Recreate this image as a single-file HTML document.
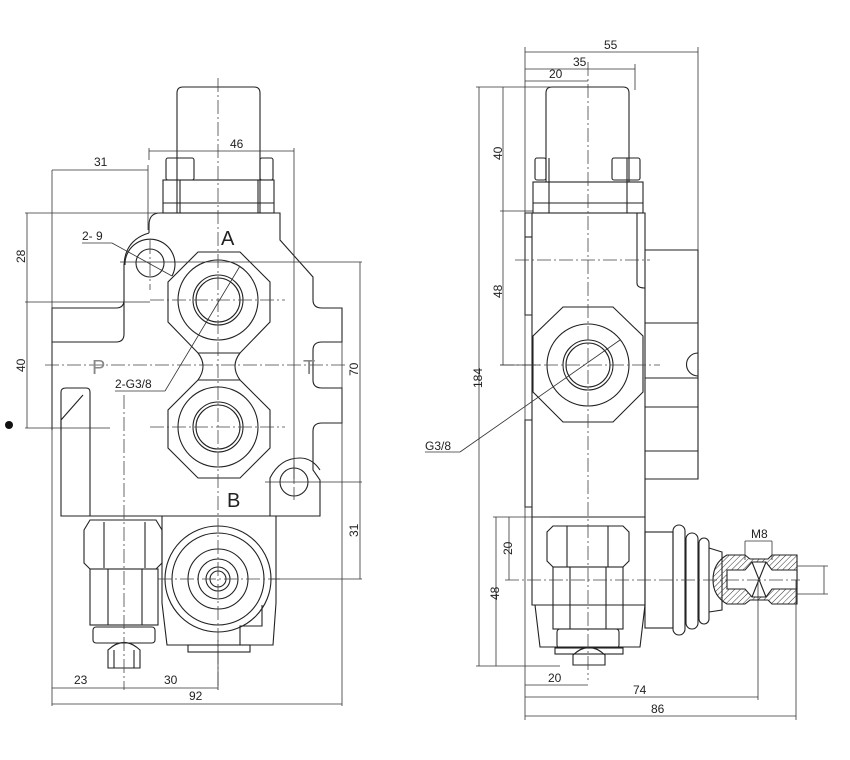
<!DOCTYPE html>
<html><head><meta charset="utf-8"><style>
html,body{margin:0;padding:0;background:#fff;}
svg{display:block;}
text{font-family:"Liberation Sans",sans-serif;fill:#222;}
</style></head><body>
<svg width="850" height="760" viewBox="0 0 850 760" xmlns="http://www.w3.org/2000/svg">
<defs>
<pattern id="h" width="4" height="4" patternUnits="userSpaceOnUse" patternTransform="rotate(45)">
<line x1="0" y1="0" x2="0" y2="4" stroke="#333" stroke-width="1"/></pattern>
</defs>
<g fill="none" stroke="#222" stroke-width="1.1">
<!-- LEFT VIEW -->
<!-- cap -->
<path d="M177,213 V93 Q177,87 183,87 H254 Q260,87 260,93 V213"/>
<line x1="180" y1="180" x2="180" y2="213"/><line x1="258" y1="180" x2="258" y2="213"/>
<rect x="166" y="158" width="28" height="22" rx="2"/><rect x="260" y="158" width="13" height="22" rx="2"/>
<rect x="163" y="180" width="111" height="33"/><line x1="163" y1="203" x2="274" y2="203"/>
<!-- body outline -->
<path d="M160,213 H280 V240 L313,277 V300 Q313,308 322,308 H342 V342 H322 Q313,342 313,350 V380 Q313,388 322,388 H342 V423 H322 Q313,423 313,431 V470 L320,480 V516 H61 V392 Q61,388 66,388 H86 Q90,388 90,392 V516"/>
<path d="M160,213 Q149,213 149,225 V233"/>
<path d="M149,233 Q125,240 124,265 V300 Q124,308 116,308 H52 V342 H116 Q124,342 124,334 V300"/>
<line x1="52" y1="342" x2="52" y2="388"/>
<line x1="52" y1="388" x2="52" y2="430"/>
<path d="M61,430 V420 L83,395"/>
<circle cx="150" cy="263" r="14"/>
<path d="M125,265 A25,25 0 1,1 172,276"/>
<!-- ports -->
<polygon points="198,252 240,252 270,282 270,322 240,353 198,353 168,322 168,282"/>
<circle cx="218" cy="300" r="40"/><circle cx="218" cy="300" r="25"/><circle cx="218" cy="300" r="22"/>
<polygon points="198,380 240,380 270,410 270,448 240,478 198,478 168,448 168,410"/>
<circle cx="218" cy="427" r="40"/><circle cx="218" cy="427" r="25"/><circle cx="218" cy="427" r="22"/>
<path d="M198,353 Q208,366 198,380 M240,353 Q230,366 240,380"/>
<!-- lower right hole boss -->
<path d="M270,516 V478 Q280,458 300,458 Q312,458 320,470"/>
<circle cx="294" cy="482" r="14"/>
<!-- lower spool block -->
<path d="M162,516 V603 L167,645 H273 L276,603 V516"/>
<rect x="188" y="645" width="62" height="7"/>
<circle cx="218" cy="579" r="53"/><circle cx="218" cy="579" r="46"/><circle cx="218" cy="579" r="30"/>
<circle cx="218" cy="579" r="20"/><circle cx="218" cy="579" r="12"/><circle cx="218" cy="579" r="8"/>
<path d="M240,645 V626 H262 V605"/>
<!-- relief valve -->
<polygon points="90,520 156,520 162,530 162,563 156,569 90,569 84,563 84,530"/>
<line x1="104" y1="522" x2="104" y2="568"/><line x1="145" y1="522" x2="145" y2="568"/>
<rect x="90" y="569" width="68" height="56"/>
<line x1="108" y1="569" x2="108" y2="625"/><line x1="142" y1="569" x2="142" y2="625"/>
<rect x="93" y="627" width="62" height="16" rx="3"/>
<path d="M108,668 V650 Q124,635 140,650 V668 Z"/>
<line x1="114" y1="650" x2="114" y2="668"/><line x1="134" y1="650" x2="134" y2="668"/>
</g>
<!-- centerlines left -->
<g stroke="#444" stroke-width="0.8" stroke-dasharray="14 3 2 3" fill="none">
<line x1="218" y1="78" x2="218" y2="690"/>
<line x1="45" y1="365" x2="345" y2="365"/>
<line x1="150" y1="300" x2="285" y2="300"/>
<line x1="150" y1="427" x2="285" y2="427"/>
<line x1="124" y1="395" x2="124" y2="690"/>
<line x1="158" y1="579" x2="280" y2="579"/>
<line x1="150" y1="240" x2="150" y2="290"/>
<line x1="294" y1="465" x2="294" y2="500"/>
</g>
<!-- dims left -->
<g stroke="#333" stroke-width="0.8" fill="none">
<line x1="52" y1="170" x2="52" y2="706"/><line x1="148" y1="165" x2="148" y2="230"/>
<line x1="52" y1="170" x2="148" y2="170"/>
<line x1="149" y1="151" x2="294" y2="151"/><line x1="294" y1="148" x2="294" y2="482"/><line x1="149" y1="148" x2="149" y2="160"/>
<line x1="27" y1="213" x2="27" y2="428"/><line x1="25" y1="213" x2="160" y2="213"/>
<line x1="25" y1="302" x2="150" y2="302"/><line x1="25" y1="428" x2="110" y2="428"/>
<line x1="360" y1="262" x2="360" y2="579"/><line x1="120" y1="262" x2="362" y2="262"/>
<line x1="265" y1="482" x2="362" y2="482"/><line x1="270" y1="579" x2="362" y2="579"/>
<line x1="342" y1="342" x2="342" y2="706"/>
<line x1="52" y1="688" x2="218" y2="688"/><line x1="218" y1="640" x2="218" y2="690"/>
<line x1="52" y1="704" x2="342" y2="704"/>
<line x1="82" y1="243" x2="112" y2="243"/><line x1="112" y1="243" x2="172" y2="276"/>
<line x1="115" y1="391" x2="165" y2="391"/><line x1="165" y1="391" x2="240" y2="266"/>
</g>
<g font-size="12">
<text x="94" y="166">31</text><text x="230" y="148">46</text>
<text x="82" y="240">2- 9</text><text x="115" y="388">2-G3/8</text>
<text x="74" y="684">23</text><text x="164" y="684">30</text><text x="189" y="700">92</text>
<text transform="translate(25,263) rotate(-90)">28</text>
<text transform="translate(25,372) rotate(-90)">40</text>
<text transform="translate(358,376) rotate(-90)">70</text>
<text transform="translate(358,537) rotate(-90)">31</text>
</g>
<text x="221" y="245" font-size="20">A</text><text x="227" y="507" font-size="20">B</text>
<text x="92" y="374" font-size="20" fill="#777" style="fill:#888">P</text><text x="303" y="374" font-size="20" style="fill:#888">T</text>
<circle cx="9" cy="425" r="4" fill="#111"/>

<!-- RIGHT VIEW -->
<g fill="none" stroke="#222" stroke-width="1.1">
<path d="M546,182 V93 Q546,87 552,87 H623 Q629,87 629,93 V182"/>
<line x1="549" y1="158" x2="549" y2="213"/><line x1="627" y1="158" x2="627" y2="213"/>
<rect x="535" y="158" width="11" height="22" rx="2"/><rect x="612" y="158" width="28" height="22" rx="2"/>
<rect x="533" y="182" width="110" height="31"/><line x1="533" y1="203" x2="643" y2="203"/>
<path d="M525,237 V213 H645 V517 H532 V213"/>
<path d="M525,237 H532"/>
<path d="M532,315 H525 V237"/>
<path d="M645,250 H698 V479 H645"/>
<path d="M637,213 V283 Q637,288 645,288"/>
<line x1="645" y1="323" x2="698" y2="323"/><line x1="645" y1="378" x2="698" y2="378"/>
<line x1="645" y1="407" x2="698" y2="407"/><line x1="645" y1="451" x2="698" y2="451"/>
<path d="M698,353 A11,11 0 0,0 698,376"/>
<polygon points="563,307 613,307 643,336 643,392 613,422 563,422 533,392 533,336"/>
<circle cx="588" cy="365" r="41"/><circle cx="588" cy="365" r="25"/><circle cx="588" cy="365" r="22"/>
<path d="M532,420 H525 V507 H532"/>
<!-- lower -->
<path d="M532,517 V605 H645 V517"/>
<path d="M535,605 L540,647 H640 L645,605"/>
<polygon points="553,526 623,526 629,532 629,561 623,567 553,567 547,561 547,532"/>
<line x1="567" y1="526" x2="567" y2="567"/><line x1="608" y1="526" x2="608" y2="567"/>
<rect x="553" y="567" width="70" height="62"/>
<line x1="570" y1="567" x2="570" y2="629"/><line x1="606" y1="567" x2="606" y2="629"/>
<rect x="557" y="629" width="62" height="19" rx="3"/>
<rect x="555" y="648" width="68" height="6"/>
<path d="M573,665 V655 Q589,640 605,655 V665 Z"/>
<!-- lever boot -->
<rect x="645" y="532" width="28" height="96"/>
<rect x="673" y="525" width="12" height="110" rx="6"/>
<rect x="686" y="533" width="12" height="96" rx="6"/>
<rect x="699" y="538" width="10" height="86" rx="5"/>
<path d="M709,548 L722,552 L722,610 L709,612"/>
<!-- rod end -->
<path d="M727,555 H745 L750,559 H768 L772,555 H797 V604 H772 L768,600 H750 L745,604 H727 Q713,596 713,580 Q713,563 727,555 Z" fill="url(#h)"/>
<path d="M727,570 H745 L752,562 H766 L772,570 H797 V589 H772 L766,597 H752 L745,589 H727 Z" fill="#fff"/>
<line x1="752" y1="562" x2="766" y2="597"/><line x1="766" y1="562" x2="752" y2="597"/>
</g>
<g stroke="#444" stroke-width="0.8" stroke-dasharray="14 3 2 3" fill="none">
<line x1="588" y1="62" x2="588" y2="680"/>
<line x1="515" y1="260" x2="650" y2="260"/>
<line x1="500" y1="365" x2="660" y2="365"/>
<line x1="505" y1="580" x2="800" y2="580"/>
</g>
<g stroke="#333" stroke-width="0.8" fill="none">
<line x1="525" y1="47" x2="525" y2="720"/>
<line x1="525" y1="52" x2="698" y2="52"/><line x1="698" y1="47" x2="698" y2="250"/>
<line x1="525" y1="69" x2="635" y2="69"/><line x1="635" y1="64" x2="635" y2="90"/>
<line x1="525" y1="81" x2="588" y2="81"/>
<line x1="479" y1="87" x2="479" y2="666"/><line x1="476" y1="87" x2="550" y2="87"/>
<line x1="503" y1="87" x2="503" y2="365"/><line x1="500" y1="211" x2="533" y2="211"/>
<line x1="500" y1="365" x2="540" y2="365"/>
<line x1="496" y1="517" x2="496" y2="666"/><line x1="476" y1="666" x2="560" y2="666"/>
<line x1="509" y1="517" x2="509" y2="580"/><line x1="493" y1="517" x2="550" y2="517"/>
<line x1="525" y1="685" x2="588" y2="685"/>
<line x1="525" y1="697" x2="758" y2="697"/><line x1="758" y1="580" x2="758" y2="700"/>
<line x1="525" y1="716" x2="796" y2="716"/><line x1="796" y1="580" x2="796" y2="720"/>
<line x1="745" y1="541" x2="772" y2="541"/><line x1="745" y1="541" x2="745" y2="560"/><line x1="772" y1="541" x2="772" y2="560"/>
<line x1="797" y1="566" x2="828" y2="566"/><line x1="797" y1="594" x2="828" y2="594"/><line x1="824" y1="566" x2="824" y2="594"/>
<line x1="425" y1="452" x2="460" y2="452"/><line x1="460" y1="452" x2="620" y2="340"/>
</g>
<g font-size="12">
<text x="604" y="49">55</text><text x="573" y="66">35</text><text x="549" y="78">20</text>
<text x="425" y="450">G3/8</text>
<text x="548" y="682">20</text><text x="633" y="694">74</text><text x="651" y="713">86</text>
<text x="751" y="538">M8</text>
<text transform="translate(502,160) rotate(-90)">40</text>
<text transform="translate(502,298) rotate(-90)">48</text>
<text transform="translate(482,388) rotate(-90)">184</text>
<text transform="translate(512,555) rotate(-90)">20</text>
<text transform="translate(499,600) rotate(-90)">48</text>
</g>
</svg>
</body></html>
